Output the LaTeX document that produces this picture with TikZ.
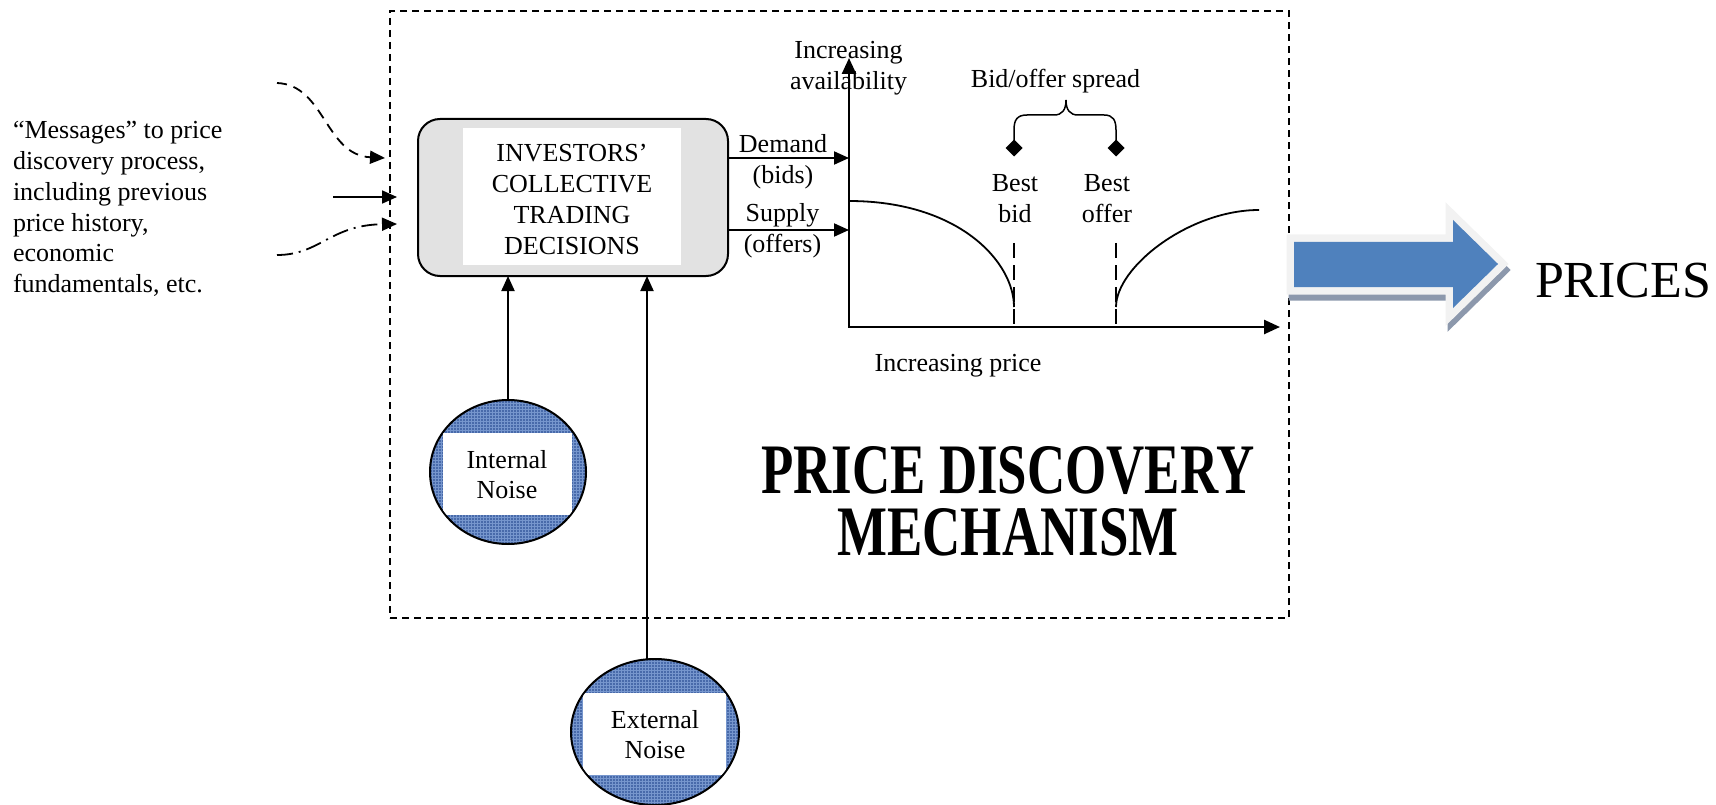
\documentclass[tikz,border=0pt]{standalone}
\usepackage{fontspec}
\setmainfont{Liberation Serif}
\usetikzlibrary{arrows.meta,shapes.geometric,patterns}
\definecolor{boxgray}{RGB}{226,226,226}
\definecolor{noiseblue}{RGB}{72,106,170}
\definecolor{noiselight}{RGB}{118,150,205}
\definecolor{arrowblue}{RGB}{79,129,189}
\definecolor{arrowborder}{RGB}{242,242,242}
\definecolor{arrowshadow}{RGB}{140,152,172}
\newcommand{\mlc}[1]{\begin{tabular}[t]{@{}c@{}}#1\end{tabular}}
\newcommand{\mll}[1]{\begin{tabular}[t]{@{}l@{}}#1\end{tabular}}
\newcommand{\twoline}[2]{\vtop{\baselineskip=62pt\lineskiplimit=-100pt\halign{\hfil##\hfil\cr #1\cr #2\cr}}}
\begin{document}
\begin{tikzpicture}[x=1pt,y=-1pt,
  every node/.style={inner sep=0pt, outer sep=0pt, font=\fontsize{26}{30.7}\selectfont},
  txt/.style={anchor=base},
  arr/.style={line width=2pt, -{Triangle[length=15pt,width=13pt]}},
  axisarr/.style={line width=2.5pt, {Triangle[length=16pt,width=14pt]}-{Triangle[length=16pt,width=14pt]}},
  framebox/.style={draw, line width=1.5pt, dash pattern=on 7pt off 5pt},
  invbox/.style={draw, line width=2pt, rounded corners=22pt, fill=boxgray},
  noise/.style={ellipse, draw, line width=2pt, preaction={fill=noiseblue}, pattern=grid, pattern color=noiselight},
  bmark/.style={diamond, fill=black, minimum width=17pt, minimum height=17pt},
  guide/.style={line width=2pt, dash pattern=on 15pt off 7pt},
  curve/.style={line width=1.8pt},
  inarr/.style={line width=1.8pt, -{Triangle[length=15pt,width=13pt]}},
]
\useasboundingbox (0,0) rectangle (1716,805);

% frame
\node[framebox, minimum width=899pt, minimum height=607pt] (frame) at (839.5,314.5) {};

% left messages
\node[anchor=base west] (msg) at (13,139) {\mll{“Messages” to price\\discovery process,\\including previous\\price history,\\economic\\fundamentals, etc.}};

% investors box
\node[invbox, minimum width=310pt, minimum height=157pt] (inv) at (573,197.5) {};
\fill[white] (463,128) rectangle (681,265);
\node[txt] (invtxt) at (572,162) {\mlc{INVESTORS’\\COLLECTIVE\\TRADING\\DECISIONS}};

% input arrows
\coordinate (in1s) at (277,83);
\coordinate (in1e) at (385,158);
\coordinate (in2s) at (333,197);
\coordinate (in2e) at (397,197);
\coordinate (in3s) at (277,255);
\coordinate (in3e) at (397,224);
\draw[inarr, dash pattern=on 10pt off 7pt] (in1s) .. controls (325,85) and (325,155) .. (in1e);
\draw[inarr] (in2s) -- (in2e);
\draw[inarr, dash pattern=on 16pt off 6pt on 2pt off 6pt] (in3s) .. controls (320,255) and (330,225) .. (in3e);

% noise circles
\node[noise, minimum width=156pt, minimum height=144pt] (intn) at (508,472) {};
\begin{scope}
  \clip (508,472) ellipse [x radius=77, y radius=71];
  \fill[white] (443,433) rectangle (572,515);
\end{scope}
\node[txt] (intxt) at (507,468) {\mlc{Internal\\Noise}};

\node[noise, minimum width=168pt, minimum height=146pt] (extn) at (655,732) {};
\begin{scope}
  \clip (655,732) ellipse [x radius=83, y radius=72];
  \fill[white] (583,693) rectangle (726,775);
\end{scope}
\node[txt] (extxt) at (655,728) {\mlc{External\\Noise}};

\draw[arr] (intn.north) -- (intn.north |- inv.south);
\draw[arr] ([xshift=-8pt]extn.north) -- ([xshift=-8pt]extn.north |- inv.south);

% demand / supply
\coordinate (demY) at (849,158);
\coordinate (supY) at (849,230);
\draw[arr] (demY -| inv.east) -- (demY);
\draw[arr] (supY -| inv.east) -- (supY);
\node[txt] (demlab) at (783,152.5) {\mlc{Demand\\(bids)}};
\node[txt] (suplab) at (782.5,222) {\mlc{Supply\\(offers)}};

% chart labels
\node[txt] (avail) at (848.5,59) {\mlc{Increasing\\availability}};
\node[txt] (spread) at (1055.5,88) {Bid/offer spread};
\node[txt] (bestbid) at (1015,191.7) {\mlc{Best\\bid}};
\node[txt] (bestoffer) at (1107,191.7) {\mlc{Best\\offer}};
\node[txt] (incprice) at (958,371.7) {Increasing price};

% axes
\coordinate (origin) at (849,327);
\coordinate (ytop) at (849,58);
\coordinate (xend) at (1280,327);
\draw[axisarr] (ytop) -- (origin) -- (xend);

% curves
\draw[curve] (849,201) .. controls (959,201) and (1014,262) .. (1014,307);
\draw[curve] (1116,307) .. controls (1116,267) and (1189,210) .. (1259,210);

% guides
\draw[guide] (1014,243) -- (1014,327);
\draw[guide] (1116,243) -- (1116,327);

% brace and marks
\node[bmark] (bbm) at (1014,148) {};
\node[bmark] (bom) at (1116,148) {};
\draw[line width=1.5pt] (bbm.center) -- (1014,130) .. controls (1014,120) and (1017,115) .. (1027,115) -- (1054,115) .. controls (1062,115) and (1066,110) .. (1066,100) .. controls (1066,110) and (1070,115) .. (1078,115) -- (1104,115) .. controls (1113,115) and (1116,120) .. (1116,130) -- (bom.center);

% title
\node[anchor=base, font=\fontsize{71}{62}\selectfont\bfseries] (title) at (1008,493) {\scalebox{0.745}[1]{\twoline{PRICE DISCOVERY}{MECHANISM}}};

% big arrow
\def\bigarrow{(1294,242) -- (1453,242) -- (1453,220) -- (1498,264) -- (1453,308) -- (1453,287) -- (1294,287) -- cycle}
\begin{scope}[shift={(2,6)}]
  \draw[line width=15pt, arrowshadow, line join=miter] \bigarrow;
\end{scope}
\draw[line width=15pt, arrowborder, line join=miter] \bigarrow;
\fill[arrowblue] \bigarrow;

\node[anchor=base west, font=\fontsize{52}{52}\selectfont] (prices) at (1535,297) {PRICES};
\end{tikzpicture}
\end{document}
